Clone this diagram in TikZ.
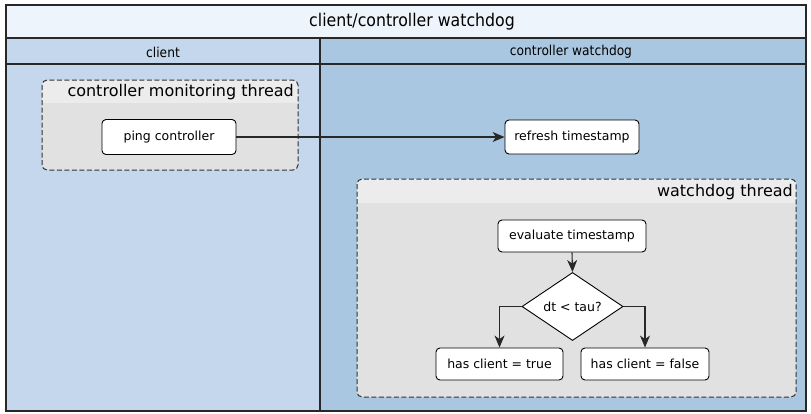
\documentclass[tikz,border=0pt]{standalone}
\usepackage{fontspec}
\setmainfont{DejaVu Sans}
\newfontfamily\headfont{DejaVu Sans Condensed}
\usetikzlibrary{shapes.geometric,arrows.meta}

\definecolor{titlefill}{RGB}{238,244,252}
\definecolor{clientfill}{RGB}{196,215,236}
\definecolor{ctrlfill}{RGB}{169,199,225}
\definecolor{framecol}{RGB}{40,40,40}
\definecolor{groupbody}{RGB}{225,225,225}
\definecolor{grouphead}{RGB}{236,236,236}
\definecolor{groupedge}{RGB}{50,50,50}

\tikzset{
  x=1pt, y=-1pt,
  frameline/.style={draw=framecol, line width=1.4pt},
  groupedgeline/.style={draw=groupedge, line width=1pt, dash pattern=on 5pt off 2.5pt, rounded corners=5pt},
  stepbox/.style={draw=black, fill=white, line width=0.9pt, rounded corners=4pt,
    font=\fontsize{12.5}{14}\selectfont, inner sep=0pt},
  decision/.style={diamond, draw=black, fill=white, line width=0.9pt, inner sep=0pt,
    minimum width=101pt, minimum height=49pt, font=\fontsize{12.5}{14}\selectfont},
  flow/.style={draw=framecol, line width=1.1pt, -{Stealth[length=12pt,width=10pt,inset=3.5pt]}},
  grouptitle/.style={anchor=east, inner sep=0pt, font=\fontsize{16}{18}\selectfont},
  lanetitle/.style={inner sep=0pt, font=\headfont\fontsize{13.6}{15}\selectfont},
}

\begin{document}
\begin{tikzpicture}
\useasboundingbox (0,0) rectangle (811,413);

% pool background
\fill[titlefill] (6,5) rectangle (806,38);
\fill[clientfill] (6,38) rectangle (320,411);
\fill[ctrlfill] (320,38) rectangle (806,411);

% pool grid lines
\draw[frameline] (6,38) -- (806,38);
\draw[frameline] (6,64) -- (806,64);
\draw[frameline] (320,38) -- (320,411);
\draw[frameline] (6,5) rectangle (806,411);

\node[inner sep=0pt, font=\headfont\fontsize{17.5}{19}\selectfont] (pooltitle) at (412,21.5) {client/controller watchdog};
\node[lanetitle] (lane1) at (163,52) {client};
\node[lanetitle] (lane2) at (571,52) {controller watchdog};

% group: controller monitoring thread
\fill[groupbody, rounded corners=5pt] (42,80) rectangle (298,170);
\begin{scope}
  \clip[rounded corners=5pt] (42,80) rectangle (298,170);
  \fill[grouphead] (42,80) rectangle (298,103);
\end{scope}
\draw[groupedgeline] (42,80) rectangle (298,170);
\node[grouptitle] (g1title) at (294,92) {controller monitoring thread};

% group: watchdog thread
\fill[groupbody, rounded corners=5pt] (357,179) rectangle (796,397);
\begin{scope}
  \clip[rounded corners=5pt] (357,179) rectangle (796,397);
  \fill[grouphead] (357,179) rectangle (796,203);
\end{scope}
\draw[groupedgeline] (357,179) rectangle (796,397);
\node[grouptitle] (g2title) at (793,192) {watchdog thread};

% steps
\node[stepbox, minimum width=134pt, minimum height=35pt] (ping) at (169,137) {ping controller};
\node[stepbox, minimum width=134pt, minimum height=34pt] (refresh) at (572,137) {refresh timestamp};
\node[stepbox, minimum width=148pt, minimum height=32pt] (eval) at (572,236) {evaluate timestamp};
\node[decision] (dec) at (572.5,306.5) {dt < tau?};
\node[stepbox, minimum width=127pt, minimum height=32pt] (yes) at (499.5,364) {has client = true};
\node[stepbox, minimum width=128pt, minimum height=32pt] (no) at (645,364) {has client = false};

% connectors
\draw[flow] (ping.east) -- (refresh.west);
\draw[flow] (eval.south) -- (dec.north);
\draw[flow] (dec.west) -| (yes.north);
\draw[flow] (dec.east) -| (no.north);
\end{tikzpicture}
\end{document}
